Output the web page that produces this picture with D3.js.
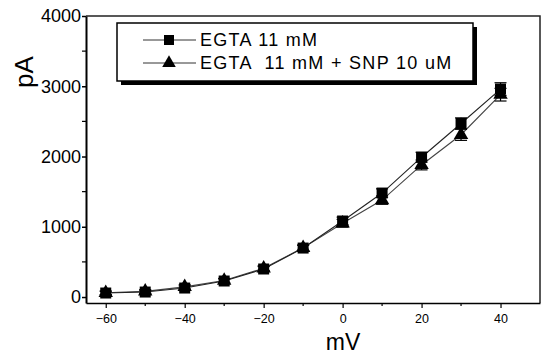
<!DOCTYPE html>
<html>
<head>
<meta charset="utf-8">
<script src="https://cdn.jsdelivr.net/npm/d3@7"></script>
<style>
  body { margin: 0; background: #fff; }
  svg { display: block; font-family: "Liberation Sans", Arial, sans-serif; }
</style>
</head>
<body>
<div id="chart"></div>
<script>
// Data (membrane potential vs current)
const voltages = [-60, -50, -40, -30, -20, -10, 0, 10, 20, 30, 40];
const egtaValues = [57, 71, 128, 228, 399, 697, 1082, 1480, 1990, 2470, 2960];
const egtaErrors = [25, 25, 30, 30, 35, 40, 55, 60, 70, 80, 90];
const snpValues = [60, 80, 145, 235, 410, 700, 1050, 1380, 1880, 2310, 2880];
const snpErrors = [25, 25, 30, 30, 35, 40, 55, 60, 70, 80, 90];
const seriesNames = ["EGTA 11 mM", "EGTA  11 mM + SNP 10 uM"];
const xTicks = [-60, -40, -20, 0, 20, 40];
const yTicks = [0, 1000, 2000, 3000, 4000];

const width = 541, height = 356;

const svg = d3.select("#chart").append("svg")
    .attr("width", width)
    .attr("height", height);

// Scales
const x = d3.scaleLinear().domain([-65, 50]).range([86, 540]);
const y = d3.scaleLinear().domain([-85, 4000]).range([303, 16]);

// Frame (top and right)
svg.append("path")
    .attr("d", `M${x.range()[0]},${y.range()[1]}H${x.range()[1]}V${y.range()[0]}`)
    .attr("fill", "none")
    .attr("stroke", "#222")
    .attr("stroke-width", 1.5);

// Y axis
const yAxis = svg.append("g")
    .attr("transform", `translate(${x.range()[0]},0)`)
    .call(d3.axisLeft(y).tickValues(yTicks).tickFormat(d3.format("d"))
        .tickSize(4).tickPadding(1).tickSizeOuter(0));
yAxis.select(".domain").attr("stroke", "#000").attr("stroke-width", 2);
yAxis.selectAll(".tick line").attr("stroke-width", 1.5);
yAxis.selectAll("text").attr("font-size", 18).attr("fill", "#000");
// minor y ticks
svg.append("g")
    .selectAll("line")
    .data(d3.range(500, 4000, 1000))
    .join("line")
    .attr("x1", x.range()[0] - 4).attr("x2", x.range()[0])
    .attr("y1", d => y(d)).attr("y2", d => y(d))
    .attr("stroke", "#000").attr("stroke-width", 1.2);

// X axis
const xAxis = svg.append("g")
    .attr("transform", `translate(0,${y.range()[0]})`)
    .call(d3.axisBottom(x).tickValues(xTicks).tickSize(5).tickPadding(6).tickSizeOuter(0));
xAxis.select(".domain").attr("stroke", "#000").attr("stroke-width", 1.5);
xAxis.selectAll(".tick line").attr("stroke-width", 1.2);
xAxis.selectAll("text").attr("font-size", 12.5).attr("fill", "#000");
// minor x ticks
svg.append("g")
    .selectAll("line")
    .data([-50, -30, -10, 10, 30])
    .join("line")
    .attr("x1", d => x(d)).attr("x2", d => x(d))
    .attr("y1", y.range()[0]).attr("y2", y.range()[0] + 3)
    .attr("stroke", "#000").attr("stroke-width", 1.2);

// Axis titles
svg.append("text")
    .attr("transform", "translate(33,72) rotate(-90)")
    .attr("text-anchor", "middle")
    .attr("font-size", 26)
    .text("pA");

svg.append("text")
    .attr("x", 343)
    .attr("y", 350)
    .attr("text-anchor", "middle")
    .attr("font-size", 23)
    .text("mV");

const line = d3.line().x(d => x(d[0])).y(d => y(d[1]));

function drawSeries(values, errors, shape, stroke) {
    const pts = voltages.map((v, i) => [v, values[i], errors[i]]);
    const g = svg.append("g");
    g.append("path")
        .datum(pts)
        .attr("d", line)
        .attr("fill", "none")
        .attr("stroke", stroke)
        .attr("stroke-width", 1.1);

    // error bars
    const eb = g.selectAll(".eb").data(pts).join("g");
    eb.append("line")
        .attr("x1", d => x(d[0])).attr("x2", d => x(d[0]))
        .attr("y1", d => y(d[1] - d[2])).attr("y2", d => y(d[1] + d[2]))
        .attr("stroke", "#000").attr("stroke-width", 1.2);
    [1, -1].forEach(s => {
        eb.append("line")
            .attr("x1", d => x(d[0]) - 6).attr("x2", d => x(d[0]) + 6)
            .attr("y1", d => y(d[1] + s * d[2])).attr("y2", d => y(d[1] + s * d[2]))
            .attr("stroke", "#000").attr("stroke-width", 1.2);
    });

    g.selectAll(".mk").data(pts).join("path")
        .attr("transform", d => `translate(${x(d[0])},${y(d[1])})`)
        .attr("d", d3.symbol().type(shape).size(shape === d3.symbolSquare ? 121 : 90))
        .attr("fill", "#000");
}

drawSeries(snpValues, snpErrors, d3.symbolTriangle, "#444");
drawSeries(egtaValues, egtaErrors, d3.symbolSquare, "#222");

// Legend
const legend = svg.append("g");
const lx = 117, ly = 23, lw = 356, lh = 58;
legend.append("rect")
    .attr("x", lx + 4).attr("y", ly + 4)
    .attr("width", lw).attr("height", lh)
    .attr("fill", "#000");
legend.append("rect")
    .attr("x", lx).attr("y", ly)
    .attr("width", lw).attr("height", lh)
    .attr("fill", "#fff")
    .attr("stroke", "#000")
    .attr("stroke-width", 1.5);

const shapes = [d3.symbolSquare, d3.symbolTriangle];
seriesNames.forEach((name, i) => {
    const yy = ly + 17 + i * 23;
    legend.append("line")
        .attr("x1", 143).attr("x2", 196)
        .attr("y1", yy).attr("y2", yy)
        .attr("stroke", "#333").attr("stroke-width", 1);
    legend.append("path")
        .attr("transform", `translate(169,${yy})`)
        .attr("d", d3.symbol().type(shapes[i]).size(i === 0 ? 100 : 80))
        .attr("fill", "#000");
    legend.append("text")
        .attr("x", 200)
        .attr("y", yy + 6)
        .attr("font-size", 18)
        .attr("letter-spacing", 1.3)
        .style("white-space", "pre")
        .text(name);
});
</script>
</body>
</html>
